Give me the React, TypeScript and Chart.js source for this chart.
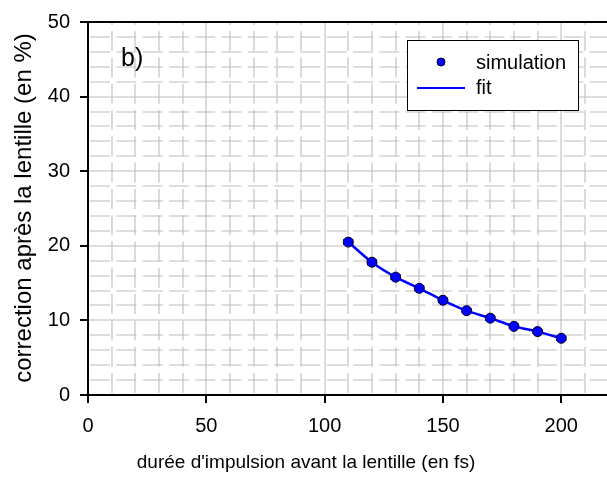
import React, { useEffect, useRef } from "react";
import { Chart, registerables } from "chart.js";

Chart.register(...registerables);

const durations = [110, 120, 130, 140, 150, 160, 170, 180, 190, 200];
const simulation = [20.5, 17.8, 15.8, 14.3, 12.7, 11.3, 10.3, 9.2, 8.5, 7.6];
const simErr = [0.3, 0.3, 0.3, 0.3, 0.25, 0.25, 0.25, 0.25, 0.25, 0.25];
const fit = [20.5, 17.8, 15.8, 14.3, 12.7, 11.3, 10.3, 9.2, 8.5, 7.6];
const xTicks = [0, 50, 100, 150, 200];
const yTicks = [0, 10, 20, 30, 40, 50];

const FONT = "'Liberation Sans', Arial, sans-serif";

const decorPlugin = {
  id: "decor",
  beforeDraw(chart: any) {
    const { ctx, chartArea: a, scales } = chart;
    const xs = scales.x, ys = scales.y;
    ctx.save();
    ctx.fillStyle = "#fff";
    ctx.fillRect(0, 0, chart.width, chart.height);
    ctx.strokeStyle = "#bdbdbd";
    ctx.lineWidth = 1.1;
    // minor dashed grid
    ctx.setLineDash([20, 6.3]);
    for (let v = 10; v <= 220; v += 10) {
      if (v % 50 === 0) continue;
      const px = Math.round(xs.getPixelForValue(v));
      ctx.beginPath();
      ctx.moveTo(px, a.bottom - 2);
      ctx.lineTo(px, a.top);
      ctx.stroke();
    }
    for (let v = 2; v < 50; v += 2) {
      if (v % 10 === 0) continue;
      const py = Math.round(ys.getPixelForValue(v));
      ctx.beginPath();
      ctx.moveTo(a.left + 2, py);
      ctx.lineTo(a.right, py);
      ctx.stroke();
    }
    // major solid grid
    ctx.setLineDash([]);
    for (const v of xTicks) {
      if (v === 0) continue;
      const px = Math.round(xs.getPixelForValue(v));
      ctx.beginPath();
      ctx.moveTo(px, a.bottom);
      ctx.lineTo(px, a.top);
      ctx.stroke();
    }
    for (const v of yTicks) {
      if (v === 0 || v === 50) continue;
      const py = Math.round(ys.getPixelForValue(v));
      ctx.beginPath();
      ctx.moveTo(a.left, py);
      ctx.lineTo(a.right, py);
      ctx.stroke();
    }
    ctx.restore();
  },
  beforeDatasetsDraw(chart: any) {
    const { ctx, scales } = chart;
    const xs = scales.x, ys = scales.y;
    ctx.save();
    ctx.strokeStyle = "#000";
    ctx.lineWidth = 1.5;
    durations.forEach((d, i) => {
      const px = xs.getPixelForValue(d);
      const top = ys.getPixelForValue(simulation[i] + simErr[i]);
      const bot = ys.getPixelForValue(simulation[i] - simErr[i]);
      ctx.beginPath();
      ctx.moveTo(px, top);
      ctx.lineTo(px, bot);
      ctx.moveTo(px - 5, top);
      ctx.lineTo(px + 5, top);
      ctx.moveTo(px - 5, bot);
      ctx.lineTo(px + 5, bot);
      ctx.stroke();
    });
    ctx.restore();
  },
  afterDraw(chart: any) {
    const { ctx, chartArea: a } = chart;
    ctx.save();
    // top border
    ctx.strokeStyle = "#000";
    ctx.lineWidth = 2;
    ctx.beginPath();
    ctx.moveTo(a.left - 1, a.top);
    ctx.lineTo(chart.width, a.top);
    ctx.stroke();
    // panel label
    ctx.fillStyle = "#000";
    ctx.font = `25px ${FONT}`;
    ctx.textAlign = "left";
    ctx.textBaseline = "alphabetic";
    ctx.fillText("b)", 121, 66);
    // axis titles
    ctx.font = `19px ${FONT}`;
    ctx.textAlign = "center";
    ctx.textBaseline = "middle";
    ctx.fillText("durée d'impulsion avant la lentille (en fs)", 306, 463);
    ctx.save();
    ctx.translate(24, 208);
    ctx.rotate(-Math.PI / 2);
    ctx.font = `24px ${FONT}`;
    ctx.fillText("correction après la lentille (en %)", 0, 0);
    ctx.restore();
    // legend
    ctx.fillStyle = "#fff";
    ctx.fillRect(407, 40, 171, 70);
    ctx.strokeStyle = "#000";
    ctx.lineWidth = 1;
    ctx.strokeRect(407.5, 40.5, 171, 70);
    ctx.beginPath();
    ctx.arc(441, 62, 4, 0, Math.PI * 2);
    ctx.fillStyle = "#0000ff";
    ctx.fill();
    ctx.strokeStyle = "#000033";
    ctx.stroke();
    ctx.strokeStyle = "#0000ff";
    ctx.lineWidth = 2;
    ctx.beginPath();
    ctx.moveTo(417, 88);
    ctx.lineTo(465, 88);
    ctx.stroke();
    ctx.fillStyle = "#000";
    ctx.font = `20px ${FONT}`;
    ctx.textAlign = "left";
    ctx.textBaseline = "middle";
    ctx.fillText("simulation", 476, 63);
    ctx.fillText("fit", 476, 88);
    ctx.restore();
  },
};

export default function App() {
  const ref = useRef<HTMLCanvasElement | null>(null);
  useEffect(() => {
    if (!ref.current) return;
    const chart = new Chart(ref.current, {
      type: "scatter",
      data: {
        datasets: [
          {
            label: "simulation",
            data: durations.map((d, i) => ({ x: d, y: simulation[i] })),
            showLine: false,
            pointRadius: 5,
            pointBackgroundColor: "#0000ff",
            pointBorderColor: "#000022",
            pointBorderWidth: 1,
          },
          {
            label: "fit",
            data: durations.map((d, i) => ({ x: d, y: fit[i] })),
            showLine: true,
            borderColor: "#0000ff",
            borderWidth: 2.5,
            pointRadius: 0,
            tension: 0.3,
            cubicInterpolationMode: "monotone",
          },
        ],
      },
      options: {
        responsive: false,
        animation: false,
        devicePixelRatio: 1,
        layout: { padding: { top: 18, left: 0, right: 31.4, bottom: 0 } },
        plugins: { legend: { display: false }, tooltip: { enabled: false } },
        scales: {
          x: {
            type: "linear",
            min: 0,
            max: 220,
            afterBuildTicks: (s: any) => {
              s.ticks = xTicks.map((v) => ({ value: v }));
            },
            afterFit: (s: any) => {
              s.height = 83;
            },
            ticks: {
              color: "#000",
              font: { family: FONT, size: 20 },
              padding: 11,
              maxRotation: 0,
            },
            grid: {
              display: true,
              drawOnChartArea: false,
              drawTicks: true,
              tickLength: 8,
              color: "#000",
              lineWidth: 2,
            },
            border: { display: true, color: "#000", width: 2 },
          },
          y: {
            type: "linear",
            min: 0,
            max: 50,
            afterBuildTicks: (s: any) => {
              s.ticks = yTicks.map((v) => ({ value: v }));
            },
            afterFit: (s: any) => {
              s.width = 88;
            },
            ticks: {
              color: "#000",
              font: { family: FONT, size: 20 },
              padding: 10,
            },
            grid: {
              display: true,
              drawOnChartArea: false,
              drawTicks: true,
              tickLength: 8,
              color: "#000",
              lineWidth: 2,
            },
            border: { display: true, color: "#000", width: 2 },
          },
        },
      },
      plugins: [decorPlugin],
    } as any);
    return () => chart.destroy();
  }, []);
  return (
    <div
      style={{
        position: "fixed",
        left: 0,
        top: 0,
        width: 607,
        height: 478,
        overflow: "hidden",
        background: "#fff",
      }}
    >
      <canvas ref={ref} width={640} height={478} style={{ display: "block", width: 640, height: 478 }} />
    </div>
  );
}
